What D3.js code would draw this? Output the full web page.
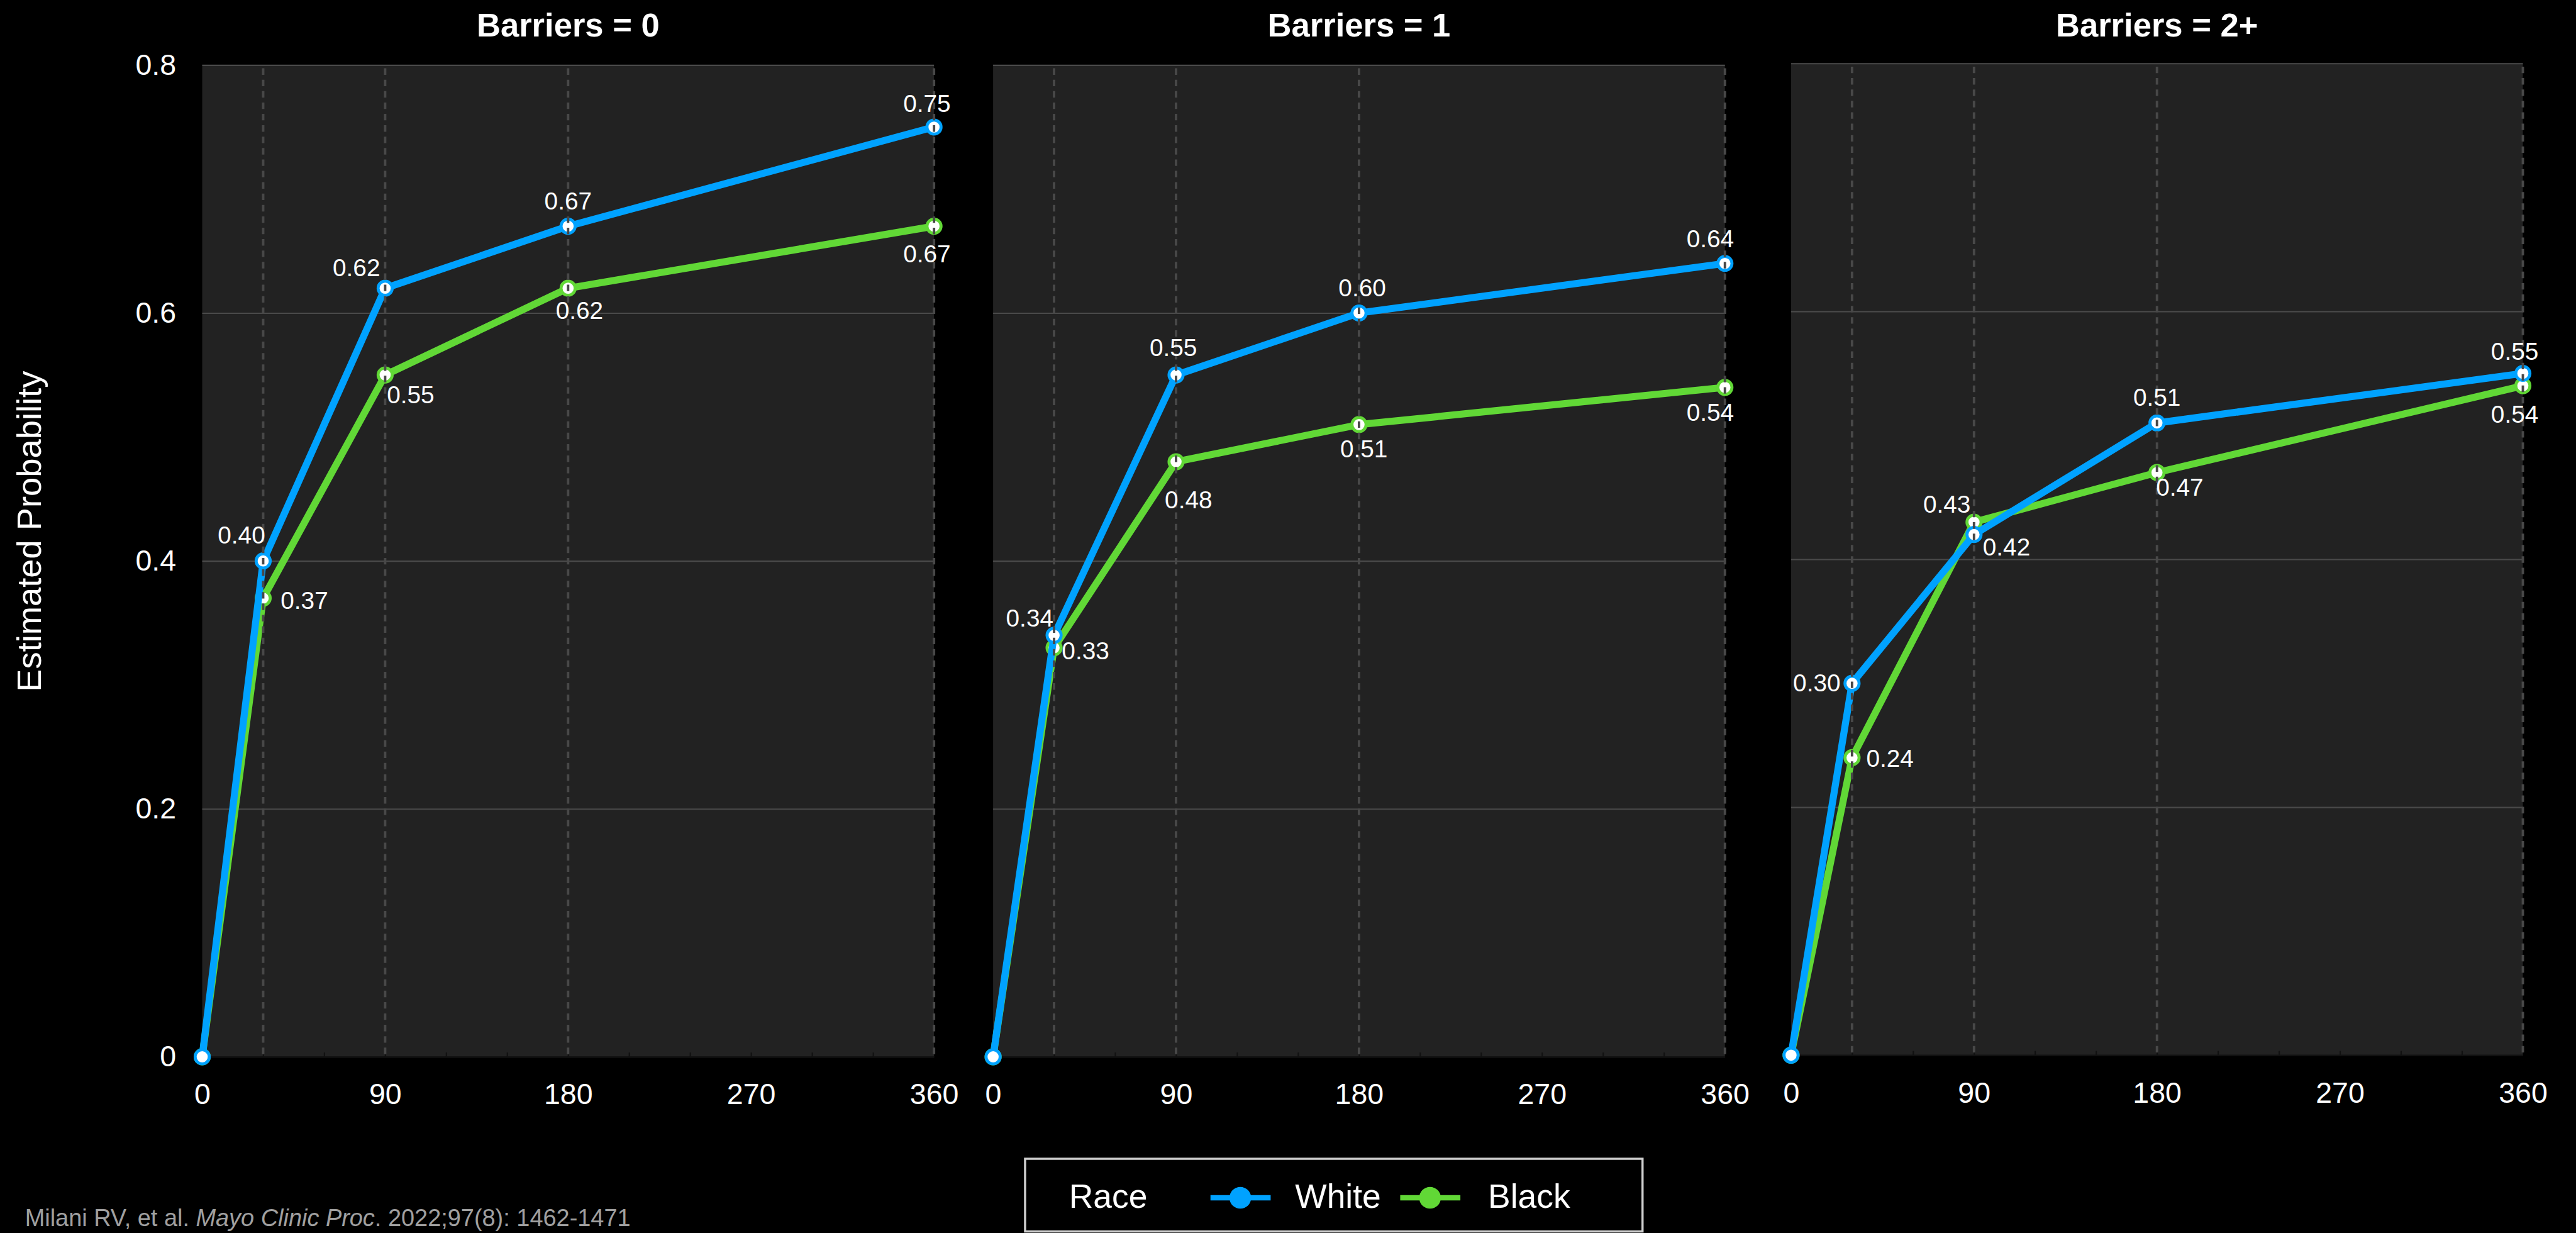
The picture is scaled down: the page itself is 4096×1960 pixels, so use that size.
<!DOCTYPE html>
<html>
<head>
<meta charset="utf-8">
<script src="https://cdn.jsdelivr.net/npm/d3@7"></script>
<style>
  html, body { margin: 0; padding: 0; background: #000; }
  svg { display: block; }
  text { font-family: "Liberation Sans", Arial, Helvetica, sans-serif; }
</style>
</head>
<body>
<svg id="chart" width="4096" height="1960"></svg>
<script>
//  data
const days = [0, 30, 90, 180, 360];
const panelTitles = ["Barriers = 0", "Barriers = 1", "Barriers = 2+"];
const whiteValues = [
  [0, 0.40, 0.62, 0.67, 0.75],
  [0, 0.34, 0.55, 0.60, 0.64],
  [0, 0.30, 0.42, 0.51, 0.55]
];
const blackValues = [
  [0, 0.37, 0.55, 0.62, 0.67],
  [0, 0.33, 0.48, 0.51, 0.54],
  [0, 0.24, 0.43, 0.47, 0.54]
];
const yTicks = [0, 0.2, 0.4, 0.6, 0.8];
const xTicks = [0, 90, 180, 270, 360];
const refDays = [30, 90, 180, 360];

//  label placement (offset of label centre from its point, reference px)
const whiteLabelOffset = [
  [null, [-40, -48], [-53, -38], [0, -47], [-13, -43]],
  [null, [-45, -32], [-5, -51], [6, -47], [-27, -46]],
  [null, [-65, -1], [60, 23], [0, -47], [-15, -41]]
];
const blackLabelOffset = [
  [null, [76, 4], [47, 36], [21, 41], [-13, 51]],
  [null, [58, 6], [23, 70], [9, 45], [-27, 46]],
  [null, [70, 1], [-50, -33], [42, 27], [-15, 52]]
];

//  layout, in reference pixels (4752 x 2274), scaled down at the end
const S = 4096 / 4752;
const panelX = [373, 1832, 3304];
const panelTop = [120, 120, 117];
const panelW = 1350, panelH = 1829;

const series = [
  {name: "Black", color: "#61D836", values: blackValues, offsets: blackLabelOffset},
  {name: "White", color: "#00A2FF", values: whiteValues, offsets: whiteLabelOffset}
];

const svg = d3.select("#chart");
svg.append("rect").attr("width", 4096).attr("height", 1960).attr("fill", "#000");
const root = svg.append("g").attr("transform", `scale(${S})`);

function draw_panel(p) {
  const g = root.append("g");
  const x = d3.scaleLinear().domain([0, 360]).range([panelX[p], panelX[p] + panelW]);
  const y = d3.scaleLinear().domain([0, 0.8]).range([panelTop[p] + panelH, panelTop[p]]);

  g.append("rect")
    .attr("x", panelX[p]).attr("y", panelTop[p])
    .attr("width", panelW).attr("height", panelH)
    .attr("fill", "#222222");

  //  horizontal grid
  const grid = g.append("g")
    .attr("transform", `translate(${panelX[p]},0)`)
    .call(d3.axisLeft(y).tickValues(yTicks.slice(1)).tickSize(-panelW).tickFormat(""));
  grid.select(".domain").remove();
  grid.selectAll("line").attr("stroke", "#4a4a4a").attr("stroke-width", 2.5);

  //  minor ticks + axis line
  const minor = g.append("g")
    .attr("transform", `translate(0,${y(0)})`)
    .call(d3.axisBottom(x).tickValues(d3.range(30, 360, 30)).tickSizeInner(-8).tickSizeOuter(0).tickFormat(""));
  minor.select(".domain").attr("stroke", "#111").attr("stroke-width", 3);
  minor.selectAll("line").attr("stroke", "#111").attr("stroke-width", 2.5);

  //  x tick labels
  const xa = g.append("g")
    .attr("transform", `translate(0,${y(0)})`)
    .call(d3.axisBottom(x).tickValues(xTicks).tickSize(0).tickPadding(49));
  xa.select(".domain").remove();
  xa.selectAll("text")
    .attr("fill", "#fff")
    .style("font-size", "54px")
    .style("font-family", "'Liberation Sans', Arial, sans-serif");

  //  y tick labels, first panel only
  if (p === 0) {
    const ya = g.append("g")
      .attr("transform", `translate(${panelX[p]},0)`)
      .call(d3.axisLeft(y).tickValues(yTicks).tickSize(0).tickPadding(48).tickFormat(d3.format("")));
    ya.select(".domain").remove();
    ya.selectAll("text")
      .attr("fill", "#fff")
      .style("font-size", "54px")
      .style("font-family", "'Liberation Sans', Arial, sans-serif");
  }

  //  title
  g.append("text")
    .attr("x", panelX[p] + panelW / 2)
    .attr("y", 67)
    .attr("text-anchor", "middle")
    .attr("fill", "#fff")
    .style("font-size", "61px")
    .style("font-weight", "bold")
    .text(panelTitles[p]);

  //  lines and markers
  series.forEach(s => {
    const vals = s.values[p];
    g.append("path")
      .datum(vals)
      .attr("fill", "none")
      .attr("stroke", s.color)
      .attr("stroke-width", 13)
      .attr("stroke-linejoin", "round")
      .attr("d", d3.line().x((d, i) => x(days[i])).y(d => y(d)));

    g.selectAll(null)
      .data(vals)
      .join("circle")
      .attr("cx", (d, i) => x(days[i]))
      .attr("cy", d => y(d))
      .attr("r", 13)
      .attr("fill", "#fff")
      .attr("stroke", s.color)
      .attr("stroke-width", 5.5);
  });

  //  dashed reference lines at the follow-up days
  g.selectAll(null)
    .data(refDays)
    .join("line")
    .attr("x1", d => x(d)).attr("x2", d => x(d))
    .attr("y1", panelTop[p] + 6).attr("y2", y(0))
    .attr("stroke", "#484848")
    .attr("stroke-width", 4.5)
    .attr("stroke-dasharray", "12,9");

  //  value labels
  series.forEach(s => {
    const vals = s.values[p];
    g.selectAll(null)
      .data(vals.map((v, i) => ({v, i})).filter(d => d.i > 0))
      .join("text")
      .attr("x", d => x(days[d.i]) + s.offsets[p][d.i][0])
      .attr("y", d => y(d.v) + s.offsets[p][d.i][1])
      .attr("dy", "0.35em")
      .attr("text-anchor", "middle")
      .attr("fill", "#fff")
      .style("font-size", "45px")
      .text(d => d3.format(".2f")(d.v));
  });
}

panelTitles.forEach((t, p) => draw_panel(p));

//  y axis title
root.append("text")
  .attr("transform", "translate(75,980) rotate(-90)")
  .attr("text-anchor", "middle")
  .attr("fill", "#fff")
  .style("font-size", "63px")
  .text("Estimated Probability");

//  legend
const legend = root.append("g");
legend.append("rect")
  .attr("x", 1891).attr("y", 2137)
  .attr("width", 1139).attr("height", 134)
  .attr("fill", "#000")
  .attr("stroke", "#d0d0d0")
  .attr("stroke-width", 4);
legend.append("text")
  .attr("x", 1972).attr("y", 2228)
  .attr("fill", "#fff")
  .style("font-size", "62px")
  .text("Race");
const legendItems = [
  {name: "White", color: "#00A2FF", x: 2233, tx: 2389},
  {name: "Black", color: "#61D836", x: 2583, tx: 2745}
];
legendItems.forEach(it => {
  legend.append("line")
    .attr("x1", it.x).attr("x2", it.x + 111)
    .attr("y1", 2209).attr("y2", 2209)
    .attr("stroke", it.color).attr("stroke-width", 10);
  legend.append("circle")
    .attr("cx", it.x + 55).attr("cy", 2209).attr("r", 20)
    .attr("fill", it.color);
  legend.append("text")
    .attr("x", it.tx).attr("y", 2228)
    .attr("fill", "#fff")
    .style("font-size", "62px")
    .text(it.name);
});

//  source note (kept just inside the bottom edge)
const note = root.append("text")
  .attr("x", 46).attr("y", 2261)
  .attr("fill", "#a0a0a0")
  .style("font-size", "44px");
note.append("tspan").text("Milani RV, et al. ");
note.append("tspan").style("font-style", "italic").text("Mayo Clinic Proc");
note.append("tspan").text(". 2022;97(8): 1462-1471");
</script>
</body>
</html>
